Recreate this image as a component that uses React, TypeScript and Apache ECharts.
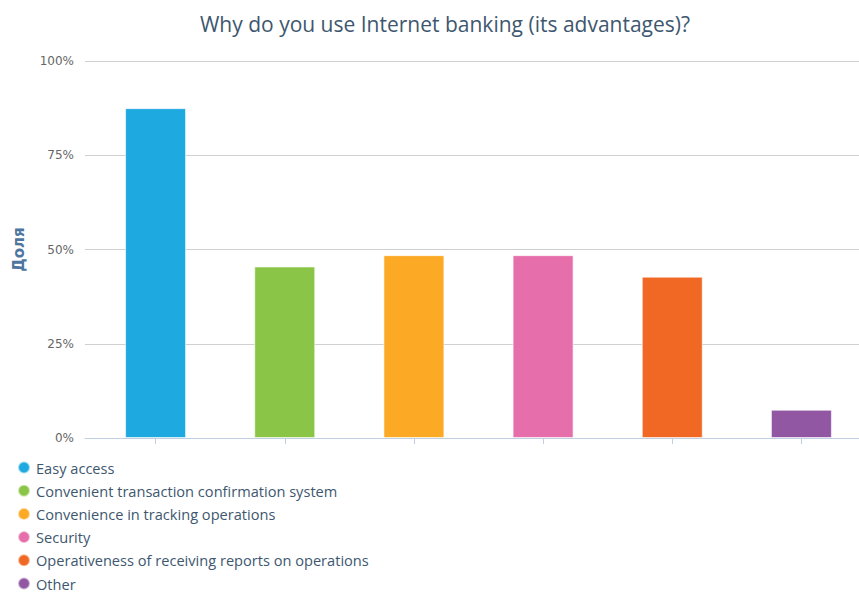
import React, { useEffect, useRef } from "react";
import * as echarts from "echarts";

const categories = [
  "Easy access",
  "Convenient transaction confirmation system",
  "Convenience in tracking operations",
  "Security",
  "Operativeness of receiving reports on operations",
  "Other",
];
const values = [87.5, 45.5, 48.5, 48.5, 42.8, 7.5];
const colors = ["#1fa9e1", "#8bc547", "#fcaa25", "#e66fab", "#f06824", "#9157a3"];
const yTicks = [0, 25, 50, 75, 100];

const FONT = "'Open Sans', sans-serif";
const AXIS_FONT = "'DejaVu Sans', sans-serif";

export default function App() {
  const ref = useRef<HTMLDivElement>(null);
  useEffect(() => {
    if (!ref.current) return;
    const chart = echarts.init(ref.current, undefined, { renderer: "svg" });
    const series = categories.map((name, i) => ({
      name,
      type: "bar",
      stack: "all",
      xAxisIndex: 1,
      yAxisIndex: 1,
      barWidth: 61,
      itemStyle: { color: colors[i], borderColor: "rgba(255,255,255,0.6)", borderWidth: 1 },
      data: values.map((v, j) => (j === i ? v : "-")),
    }));
    chart.setOption({
      animation: false,
      textStyle: { fontFamily: FONT },
      title: {
        text: "Why do you use Internet banking (its advantages)?",
        left: 440,
        textAlign: "center",
        top: 8,
        textStyle: { fontSize: 21, fontWeight: "normal", color: "#3E576F", fontFamily: FONT },
      },
      color: colors,
      legend: {
        orient: "vertical",
        left: 17,
        top: 460,
        height: 140,
        padding: 0,
        icon: "circle",
        itemWidth: 14,
        itemHeight: 12,
        itemGap: 8.2,
        data: categories,
        textStyle: { fontSize: 14.6, color: "#3E576F", lineHeight: 15, fontFamily: FONT },
      },
      grid: [
        { left: 85, right: 0, top: 61, bottom: 154, containLabel: false },
        { left: 91, right: 0, top: 61, bottom: 154, containLabel: false },
      ],
      xAxis: [
        {
          type: "category",
          gridIndex: 0,
          data: [""],
          axisLine: { lineStyle: { color: "#C0D0E0" } },
          axisTick: { show: false },
          axisLabel: { show: false },
        },
        {
          type: "category",
          gridIndex: 1,
          data: categories,
          axisLine: { show: false },
          axisTick: { show: true, interval: 0, alignWithLabel: true, length: 6, lineStyle: { color: "#C0D0E0" } },
          axisLabel: { show: false, interval: 0 },
        },
      ],
      yAxis: [
        {
          type: "value",
          gridIndex: 0,
          min: yTicks[0],
          max: yTicks[yTicks.length - 1],
          interval: 25,
          name: "Доля",
          nameLocation: "middle",
          nameRotate: 90,
          nameGap: 59,
          nameTextStyle: { fontWeight: "bold", color: "#4d759e", fontSize: 15, fontFamily: AXIS_FONT },
          axisLabel: { formatter: "{value}%", color: "#666", fontSize: 12, margin: 11, fontFamily: AXIS_FONT },
          axisLine: { show: false },
          axisTick: { show: false },
          splitLine: { lineStyle: { color: "#d0d0d0" } },
        },
        {
          type: "value",
          gridIndex: 1,
          min: yTicks[0],
          max: yTicks[yTicks.length - 1],
          interval: 25,
          show: false,
        },
      ],
      series,
    });
    return () => chart.dispose();
  }, []);
  return (
    <div
      style={{ position: "fixed", left: 0, top: 0, width: 859, height: 592, overflow: "hidden", background: "#fff" }}
    >
      <div ref={ref} style={{ width: 866, height: 592 }} />
    </div>
  );
}
